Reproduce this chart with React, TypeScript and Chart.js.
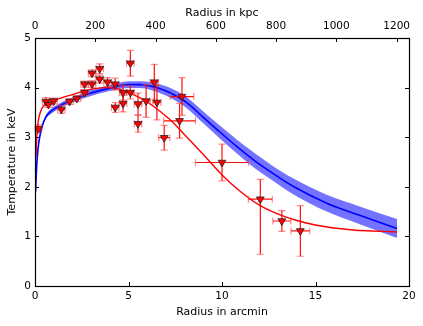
import React, { useEffect, useRef } from "react";
import { Chart, registerables } from "chart.js";
Chart.register(...registerables);

// Measured data points (arcmin, keV) with errors
const pointX = [0.18, 0.59, 0.72, 1.0, 1.41, 1.85, 2.24, 2.65, 2.65, 3.05, 3.05, 3.46, 3.46, 3.88, 4.29, 4.29, 4.71, 4.71, 5.1, 5.1, 5.51, 5.51, 5.94, 6.38, 6.52, 6.91, 7.73, 7.86, 10.0, 12.05, 13.2, 14.19];
const pointY = [3.17, 3.72, 3.66, 3.73, 3.56, 3.72, 3.78, 3.9, 4.07, 4.07, 4.29, 4.17, 4.38, 4.11, 4.07, 3.6, 3.9, 3.68, 4.49, 3.9, 3.67, 3.27, 3.73, 4.11, 3.7, 2.99, 3.33, 3.82, 2.49, 1.75, 1.31, 1.11];
const pointXErr = [0.18, 0.2, 0.2, 0.2, 0.2, 0.2, 0.2, 0.2, 0.2, 0.2, 0.2, 0.2, 0.2, 0.2, 0.2, 0.2, 0.2, 0.2, 0.2, 0.2, 0.2, 0.2, 0.22, 0.22, 0.22, 0.3, 0.85, 0.63, 1.42, 0.64, 0.48, 0.5];
const pointYErrLow = [0.08, 0.08, 0.06, 0.06, 0.08, 0.06, 0.06, 0.06, 0.06, 0.07, 0.07, 0.08, 0.1, 0.09, 0.12, 0.1, 0.15, 0.17, 0.26, 0.13, 0.22, 0.17, 0.33, 0.36, 0.35, 0.25, 0.35, 0.38, 0.37, 1.11, 0.21, 0.51];
const pointYErrHigh = [0.08, 0.08, 0.06, 0.06, 0.08, 0.06, 0.06, 0.06, 0.06, 0.07, 0.07, 0.08, 0.1, 0.09, 0.12, 0.1, 0.15, 0.17, 0.26, 0.13, 0.22, 0.17, 0.33, 0.36, 0.35, 0.25, 0.35, 0.38, 0.37, 0.4, 0.21, 0.51];

// Red model curve
const redX = [0.05, 0.12, 0.2, 0.3, 0.45, 0.65, 1.0, 1.4, 2.0, 2.6, 3.2, 3.8, 4.4, 5.0, 5.6, 6.2, 7.2, 8.0, 9.0, 10.0, 11.0, 12.0, 13.0, 14.0, 15.0, 16.0, 17.0, 18.0, 19.36];
const redY = [2.6, 3.14, 3.38, 3.52, 3.63, 3.69, 3.74, 3.79, 3.86, 3.93, 3.98, 4.0, 3.98, 3.9, 3.8, 3.66, 3.36, 3.05, 2.65, 2.24, 1.9, 1.63, 1.45, 1.32, 1.23, 1.17, 1.13, 1.11, 1.09];

// Blue model with confidence band
const bandX = [0.03, 0.08, 0.15, 0.25, 0.4, 0.6, 0.85, 1.3, 2.0, 3.0, 4.0, 5.0, 5.6, 6.2, 6.8, 7.3, 8.1, 9.0, 9.9, 10.8, 11.7, 12.6, 13.8, 15.6, 17.4, 19.36];
const blueMid = [1.9, 2.35, 2.72, 3.0, 3.24, 3.42, 3.52, 3.63, 3.75, 3.89, 3.99, 4.06, 4.06, 4.03, 3.96, 3.88, 3.7, 3.4, 3.1, 2.81, 2.54, 2.3, 2.01, 1.67, 1.42, 1.16];
const bandLower = [1.88, 2.32, 2.69, 2.96, 3.2, 3.38, 3.47, 3.58, 3.7, 3.83, 3.93, 3.99, 3.99, 3.95, 3.87, 3.78, 3.59, 3.28, 2.97, 2.67, 2.39, 2.15, 1.85, 1.5, 1.24, 0.97];
const bandUpper = [1.92, 2.38, 2.75, 3.04, 3.28, 3.46, 3.57, 3.68, 3.8, 3.95, 4.05, 4.13, 4.13, 4.11, 4.05, 3.98, 3.81, 3.52, 3.23, 2.95, 2.69, 2.45, 2.17, 1.84, 1.6, 1.35];

// Axes
const xMax = 20;
const kpcMax = 1241;
const yMax = 5;

const FONT = "'DejaVu Sans', 'Liberation Sans', sans-serif";

const errorBarPlugin = {
  id: "errorBars",
  beforeDatasetDraw(chart: any, args: any) {
    if (args.index !== 0) return;
    const { ctx, scales } = chart;
    const xs = scales.x;
    const ys = scales.y;
    ctx.save();
    const cap = 3.5;
    for (let i = 0; i < pointX.length; i++) {
      const px = xs.getPixelForValue(pointX[i]);
      const py = ys.getPixelForValue(pointY[i]);
      const x0 = xs.getPixelForValue(pointX[i] - pointXErr[i]);
      const x1 = xs.getPixelForValue(pointX[i] + pointXErr[i]);
      const y0 = ys.getPixelForValue(pointY[i] - pointYErrLow[i]);
      const y1 = ys.getPixelForValue(pointY[i] + pointYErrHigh[i]);
      ctx.strokeStyle = "rgba(255,0,0,0.95)";
      ctx.lineWidth = 1.2;
      ctx.beginPath();
      ctx.moveTo(x0, py);
      ctx.lineTo(x1, py);
      ctx.moveTo(px, y0);
      ctx.lineTo(px, y1);
      ctx.stroke();
      ctx.strokeStyle = "rgba(255,60,60,0.6)";
      ctx.lineWidth = 1.2;
      ctx.beginPath();
      ctx.moveTo(x0, py - cap);
      ctx.lineTo(x0, py + cap);
      ctx.moveTo(x1, py - cap);
      ctx.lineTo(x1, py + cap);
      ctx.moveTo(px - cap, y0);
      ctx.lineTo(px + cap, y0);
      ctx.moveTo(px - cap, y1);
      ctx.lineTo(px + cap, y1);
      ctx.stroke();
    }
    ctx.restore();
  },
};

const framePlugin = {
  id: "frame",
  afterDraw(chart: any) {
    const { ctx, chartArea: a, scales } = chart;
    ctx.save();
    ctx.strokeStyle = "#000";
    ctx.lineWidth = 1;
    const L = 4;
    ctx.beginPath();
    scales.x.ticks.forEach((t: any) => {
      const p = Math.round(scales.x.getPixelForValue(t.value)) + 0.5;
      ctx.moveTo(p, a.bottom);
      ctx.lineTo(p, a.bottom - L);
    });
    scales.x2.ticks.forEach((t: any) => {
      const p = Math.round(scales.x2.getPixelForValue(t.value)) + 0.5;
      ctx.moveTo(p, a.top);
      ctx.lineTo(p, a.top + L);
    });
    scales.y.ticks.forEach((t: any) => {
      const p = Math.round(scales.y.getPixelForValue(t.value)) + 0.5;
      ctx.moveTo(a.left, p);
      ctx.lineTo(a.left + L, p);
      ctx.moveTo(a.right, p);
      ctx.lineTo(a.right - L, p);
    });
    ctx.stroke();
    ctx.lineWidth = 1.2;
    ctx.strokeRect(Math.round(a.left) + 0.5, Math.round(a.top) + 0.5, Math.round(a.right - a.left), Math.round(a.bottom - a.top));
    ctx.restore();
  },
};

export default function App() {
  const ref = useRef<HTMLCanvasElement>(null);
  useEffect(() => {
    document.body.style.margin = "0";
    const canvas = ref.current!;
    const tickFont = { family: FONT, size: 10.5 };
    const titleFont = { family: FONT, size: 11 };
    const plain = (v: any) => String(v);
    const chart = new Chart(canvas, {
      type: "scatter",
      data: {
        datasets: [
          {
            label: "data",
            data: pointX.map((x, i) => ({ x, y: pointY[i] })),
            pointStyle: "triangle",
            rotation: 180,
            pointRadius: 4.5,
            backgroundColor: "#ff0000",
            borderColor: "#222",
            borderWidth: 0.8,
            showLine: false,
          } as any,
          {
            label: "red model",
            data: redX.map((x, i) => ({ x, y: redY[i] })),
            showLine: true,
            borderColor: "#ff0000",
            borderWidth: 1.4,
            pointRadius: 0,
            cubicInterpolationMode: "monotone",
            fill: false,
          } as any,
          {
            label: "blue model",
            data: bandX.map((x, i) => ({ x, y: blueMid[i] })),
            showLine: true,
            borderColor: "#0000ff",
            borderWidth: 1.6,
            pointRadius: 0,
            cubicInterpolationMode: "monotone",
            fill: false,
          } as any,
          {
            label: "band low",
            data: bandX.map((x, i) => ({ x, y: bandLower[i] })),
            showLine: true,
            borderWidth: 0,
            borderColor: "rgba(0,0,0,0)",
            pointRadius: 0,
            cubicInterpolationMode: "monotone",
            fill: false,
          } as any,
          {
            label: "band high",
            data: bandX.map((x, i) => ({ x, y: bandUpper[i] })),
            showLine: true,
            borderWidth: 0,
            borderColor: "rgba(0,0,0,0)",
            backgroundColor: "rgba(0,0,255,0.55)",
            pointRadius: 0,
            cubicInterpolationMode: "monotone",
            fill: "-1",
          } as any,
        ],
      },
      options: {
        responsive: false,
        animation: false,
        events: [],
        layout: { padding: { left: 0, right: 14, top: 0, bottom: 0 } },
        plugins: { legend: { display: false }, tooltip: { enabled: false } },
        scales: {
          x: {
            type: "linear",
            position: "bottom",
            min: 0,
            max: xMax,
            grid: { display: false, drawTicks: false },
            border: { display: false },
            ticks: { stepSize: 5, color: "#000", font: tickFont, padding: 4.4, maxRotation: 0, callback: plain },
            title: { display: true, text: "Radius in arcmin", color: "#000", font: titleFont, padding: { top: 0, bottom: 7.7 } },
            afterFit: (s: any) => { s.height = 40; },
          },
          x2: {
            type: "linear",
            position: "top",
            min: 0,
            max: kpcMax,
            grid: { display: false, drawTicks: false },
            border: { display: false },
            ticks: { stepSize: 200, includeBounds: false, color: "#000", font: tickFont, padding: 5, maxRotation: 0, callback: plain },
            title: { display: true, text: "Radius in kpc", color: "#000", font: titleFont, padding: { top: 6.7, bottom: 0 } },
            afterFit: (s: any) => { s.height = 38; },
          },
          y: {
            type: "linear",
            position: "left",
            min: 0,
            max: yMax,
            grid: { display: false, drawTicks: false },
            border: { display: false },
            ticks: { stepSize: 1, color: "#000", font: tickFont, padding: 4, callback: plain },
            title: { display: true, text: "Temperature in keV", color: "#000", font: titleFont, padding: { top: 5.4, bottom: 0 } },
            afterFit: (s: any) => { s.width = 35; },
          },
        },
      } as any,
      plugins: [errorBarPlugin, framePlugin],
    });
    return () => chart.destroy();
  }, []);
  return (
    <div style={{ width: 423, height: 326 }}>
      <canvas ref={ref} width={423} height={326} style={{ display: "block" }} />
    </div>
  );
}
